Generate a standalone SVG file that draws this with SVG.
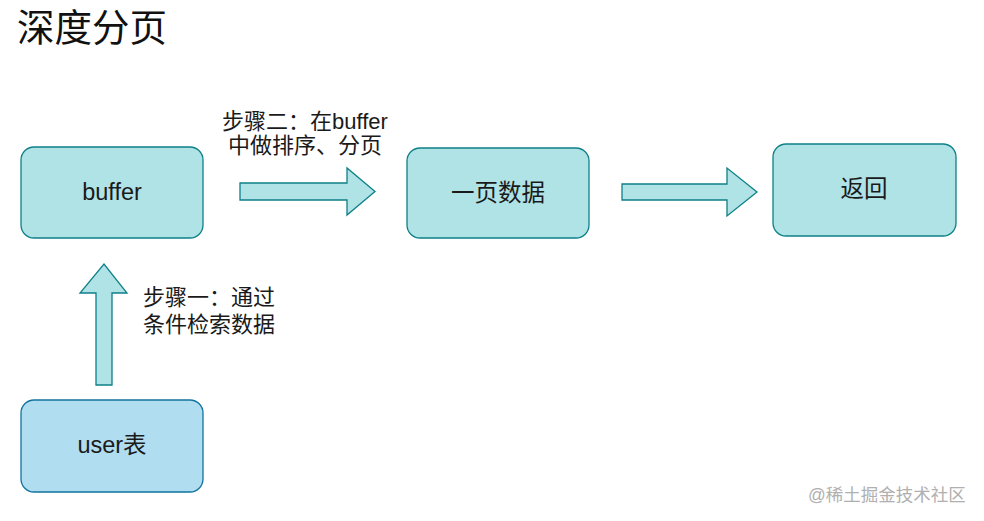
<svg xmlns="http://www.w3.org/2000/svg" width="984" height="521" viewBox="0 0 984 521">
<style>
text{font-family:"Liberation Sans","Noto Sans CJK SC",sans-serif;fill:#1a1a1a}
.cyan{fill:#b0e3e6;stroke:#0e8088;stroke-width:1.3}
.blue{fill:#b1ddf0;stroke:#10739e;stroke-width:1.3}
.arr{fill:#b0e3e6;stroke:#0e8088;stroke-width:1.3;stroke-linejoin:miter}
.node{font-size:23.5px;text-anchor:middle}
.lbl{font-size:22px}
</style>
<rect width="984" height="521" fill="#ffffff"/>
<text x="17" y="41" style="font-size:37.5px;fill:#111">深度分页</text>
<g id="buffer"><rect class="cyan" x="21" y="147" width="182" height="91" rx="13"/><text class="node" x="112" y="200">buffer</text></g>
<g id="page"><rect class="cyan" x="407" y="148" width="182" height="90" rx="13"/><text class="node" x="498" y="201">一页数据</text></g>
<g id="return"><rect class="cyan" x="773" y="144" width="183" height="92" rx="13"/><text class="node" x="864" y="197">返回</text></g>
<g id="user"><rect class="blue" x="21" y="400" width="182" height="92" rx="13"/><text class="node" x="112" y="453">user表</text></g>
<g id="connectors">
<polygon class="arr" points="96,385 112,385 112,293 127,293 104,264 80,293 96,293"/>
<polygon class="arr" points="240,183 347,183 347,168 375,191.5 347,215 347,200 240,200"/>
<polygon class="arr" points="622,184 727,184 727,168 757,192 727,216 727,200 622,200"/>
</g>
<g id="labels">
<text class="lbl" x="143" y="305">步骤一：通过</text>
<text class="lbl" x="143" y="332">条件检索数据</text>
<text class="lbl" x="305" y="129" text-anchor="middle">步骤二：在buffer</text>
<text class="lbl" x="305" y="153" text-anchor="middle">中做排序、分页</text>
</g>
<text x="808" y="501" style="font-size:17.5px;fill:#b0b0b0">@稀土掘金技术社区</text>
</svg>
